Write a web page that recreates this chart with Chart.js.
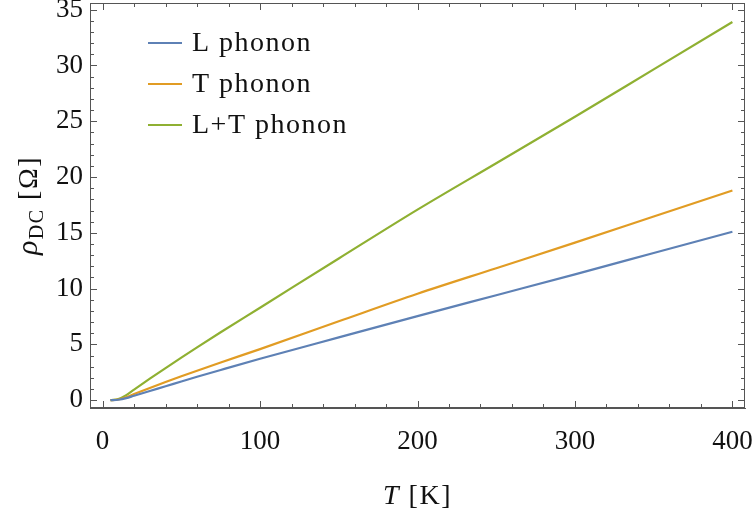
<!DOCTYPE html>
<html>
<head>
<meta charset="utf-8">
<script src="https://cdn.jsdelivr.net/npm/chart.js@4"></script>
<style>
  html, body { margin: 0; padding: 0; background: #fff; }
  #wrap { width: 756px; height: 515px; }
</style>
</head>
<body>
<div id="wrap"><canvas id="c"></canvas></div>
<script>
// temperature grid and resistivity curves
const temps = [5, 10, 15, 20, 30, 40, 50, 60, 75, 100, 150, 200, 250, 300, 350, 400];
const lPhonon = [0, 0.04, 0.18, 0.4, 0.83, 1.25, 1.68, 2.1, 2.71, 3.71, 5.63, 7.54, 9.41, 11.28, 13.19, 15.1];
const tPhonon = [0, 0.06, 0.27, 0.55, 1.1, 1.63, 2.14, 2.64, 3.38, 4.58, 7.07, 9.54, 11.83, 14.12, 16.46, 18.8];
const ltPhonon = [0, 0.1, 0.45, 0.95, 1.93, 2.88, 3.82, 4.74, 6.09, 8.29, 12.7, 17.08, 21.24, 25.4, 29.65, 33.9];
const seriesNames = ['L phonon', 'T phonon', 'L+T phonon'];
const seriesColors = ['#5E81B5', '#E19C24', '#8FB032'];
const xTicks = [0, 100, 200, 300, 400];
const yTicks = [0, 5, 10, 15, 20, 25, 30, 35];

const FONT = '"Liberation Serif", "DejaVu Serif", serif';
const AXIS = '#555';

const pts = arr => temps.map((t, i) => ({ x: t, y: arr[i] }));

// frame ticks on all sides, legend and axis titles
const decor = {
  id: 'decor',
  afterDraw(chart) {
    const { ctx, chartArea: a, scales: { x, y } } = chart;
    ctx.save();
    ctx.strokeStyle = AXIS;
    ctx.lineWidth = 1;
    ctx.strokeRect(a.left + 0.5, a.top + 0.5, a.right - a.left - 1, a.bottom - a.top - 1);
    const seg = (x1, y1, x2, y2) => { ctx.beginPath(); ctx.moveTo(x1, y1); ctx.lineTo(x2, y2); ctx.stroke(); };
    for (let v = 0; v <= 400; v += 20) {
      const px = Math.round(x.getPixelForValue(v)) + 0.5;
      const len = xTicks.includes(v) ? 7 : 4;
      seg(px, a.bottom, px, a.bottom - len);
      seg(px, a.top, px, a.top + len);
    }
    for (let v = 0; v <= 35; v++) {
      const py = Math.round(y.getPixelForValue(v)) + 0.5;
      const len = yTicks.includes(v) ? 7 : 4;
      seg(a.left, py, a.left + len, py);
      seg(a.right, py, a.right - len, py);
    }

    ctx.letterSpacing = '1.5px';
    // legend
    ctx.font = '28px ' + FONT;
    ctx.textBaseline = 'middle';
    ctx.fillStyle = '#111';
    seriesNames.forEach((name, i) => {
      const ly = 43 + i * 41;
      ctx.strokeStyle = seriesColors[i];
      ctx.lineWidth = 2.2;
      seg(148, ly, 182, ly);
      ctx.fillText(name, 192, ly + 1);
    });

    // x title: italic T + [K]
    ctx.textBaseline = 'alphabetic';
    const cx = (a.left + a.right) / 2;
    ctx.font = 'italic 28px ' + FONT;
    const wT = ctx.measureText('T').width;
    ctx.font = '28px ' + FONT;
    const wK = ctx.measureText(' [K]').width;
    let sx = cx - (wT + wK) / 2;
    ctx.font = 'italic 28px ' + FONT;
    ctx.fillText('T', sx, 504);
    ctx.font = '28px ' + FONT;
    ctx.fillText(' [K]', sx + wT, 504);

    // y title: rho_DC [Ohm], rotated
    ctx.translate(37, (a.top + a.bottom) / 2);
    ctx.rotate(-Math.PI / 2);
    ctx.font = 'italic 30px ' + FONT;
    const wr = ctx.measureText('ρ').width;
    ctx.font = '20px ' + FONT;
    const wd = ctx.measureText('DC').width;
    ctx.font = '28px ' + FONT;
    const wo = ctx.measureText(' [Ω]').width;
    sx = -(wr + wd + wo) / 2;
    ctx.font = 'italic 30px ' + FONT;
    ctx.fillText('ρ', sx, 0);
    ctx.font = '20px ' + FONT;
    ctx.fillText('DC', sx + wr, 6);
    ctx.font = '28px ' + FONT;
    ctx.fillText(' [Ω]', sx + wr + wd, 0);
    ctx.restore();
  }
};

const noPad = s => { s.paddingTop = 0; s.paddingBottom = 0; s.paddingLeft = 0; s.paddingRight = 0; };

new Chart(document.getElementById('c'), {
  type: 'line',
  data: {
    datasets: [lPhonon, tPhonon, ltPhonon].map((arr, i) => ({
      label: seriesNames[i],
      data: pts(arr),
      borderColor: seriesColors[i],
      borderWidth: 2.2,
      pointRadius: 0,
      fill: false,
      cubicInterpolationMode: 'monotone'
    }))
  },
  options: {
    responsive: true, maintainAspectRatio: false, animation: false,
    layout: { padding: { top: 3, right: 11, left: 0, bottom: 0 } },
    plugins: { legend: { display: false }, tooltip: { enabled: false } },
    scales: {
      x: {
        type: 'linear', min: -8, max: 408,
        afterFit: s => { s.height = 107; noPad(s); },
        grid: { display: false, drawTicks: false },
        border: { display: true, color: AXIS },
        ticks: { stepSize: 100, includeBounds: false, padding: 18, color: '#111', font: { family: FONT, size: 27 }, maxRotation: 0 }
      },
      y: {
        type: 'linear', min: -0.7, max: 35.6,
        afterFit: s => { s.width = 90; noPad(s); },
        grid: { display: false, drawTicks: false },
        border: { display: true, color: AXIS },
        ticks: { stepSize: 5, includeBounds: false, padding: 7, color: '#111', font: { family: FONT, size: 27 } }
      }
    }
  },
  plugins: [decor]
});
</script>
</body>
</html>
